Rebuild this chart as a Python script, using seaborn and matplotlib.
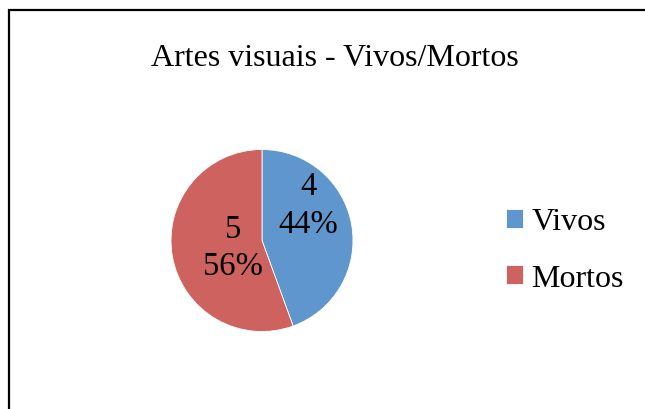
import matplotlib
matplotlib.use('Agg')
import matplotlib.pyplot as plt
import matplotlib.patches as mpatches
import seaborn as sns

# ── Data ────────────────────────────────────────────────────────────────
categories = ['Vivos', 'Mortos']
counts = [4, 5]
colors = ['#5E96CD', '#CD625E']
title = 'Artes visuais - Vivos/Mortos'

sns.set_theme(style='white')
plt.rcParams['font.family'] = ['Liberation Serif', 'DejaVu Serif']
plt.rcParams['text.color'] = 'black'

W, H = 645, 410
fig = plt.figure(figsize=(W / 100, H / 100), dpi=100)

# chart frame (open on right/bottom, as in the crop)
fig.patches.append(mpatches.Rectangle((8.5 / W, -0.1), 1.2, 1.1 - 10.5 / H,
                                      transform=fig.transFigure, fill=False,
                                      edgecolor='black', linewidth=1.6))

cx, cy, r = 262, 241.5, 91
ax = fig.add_axes([(cx - r) / W, (H - cy - r) / H, 2 * r / W, 2 * r / H])
total = sum(counts)
wedges, texts, autotexts = ax.pie(
    counts, colors=colors, startangle=90, counterclock=False,
    autopct=lambda p: f'{round(p * total / 100)}\n{p:.0f}%',
    wedgeprops=dict(edgecolor='white', linewidth=0.6),
    textprops=dict(fontsize=23.5, color='black', linespacing=1.3))
for t, pos in zip(autotexts, [(0.51, 0.39), (-0.32, -0.075)]):
    t.set_position(pos)
ax.set_xlim(-1, 1)
ax.set_ylim(-1, 1)
ax.set_aspect('equal')
ax.axis('off')

fig.text(335 / W, 1 - 58 / H, title, ha='center', va='center', fontsize=23,
         color='black')

leg = fig.legend(wedges, categories, loc='center left',
                 bbox_to_anchor=(477 / W, 1 - 251 / H), frameon=False,
                 fontsize=23, handlelength=0.55, handleheight=0.55,
                 handletextpad=0.25, labelspacing=0.85)
for t in leg.get_texts():
    t.set_color('black')

plt.savefig('out.png', dpi=100)
